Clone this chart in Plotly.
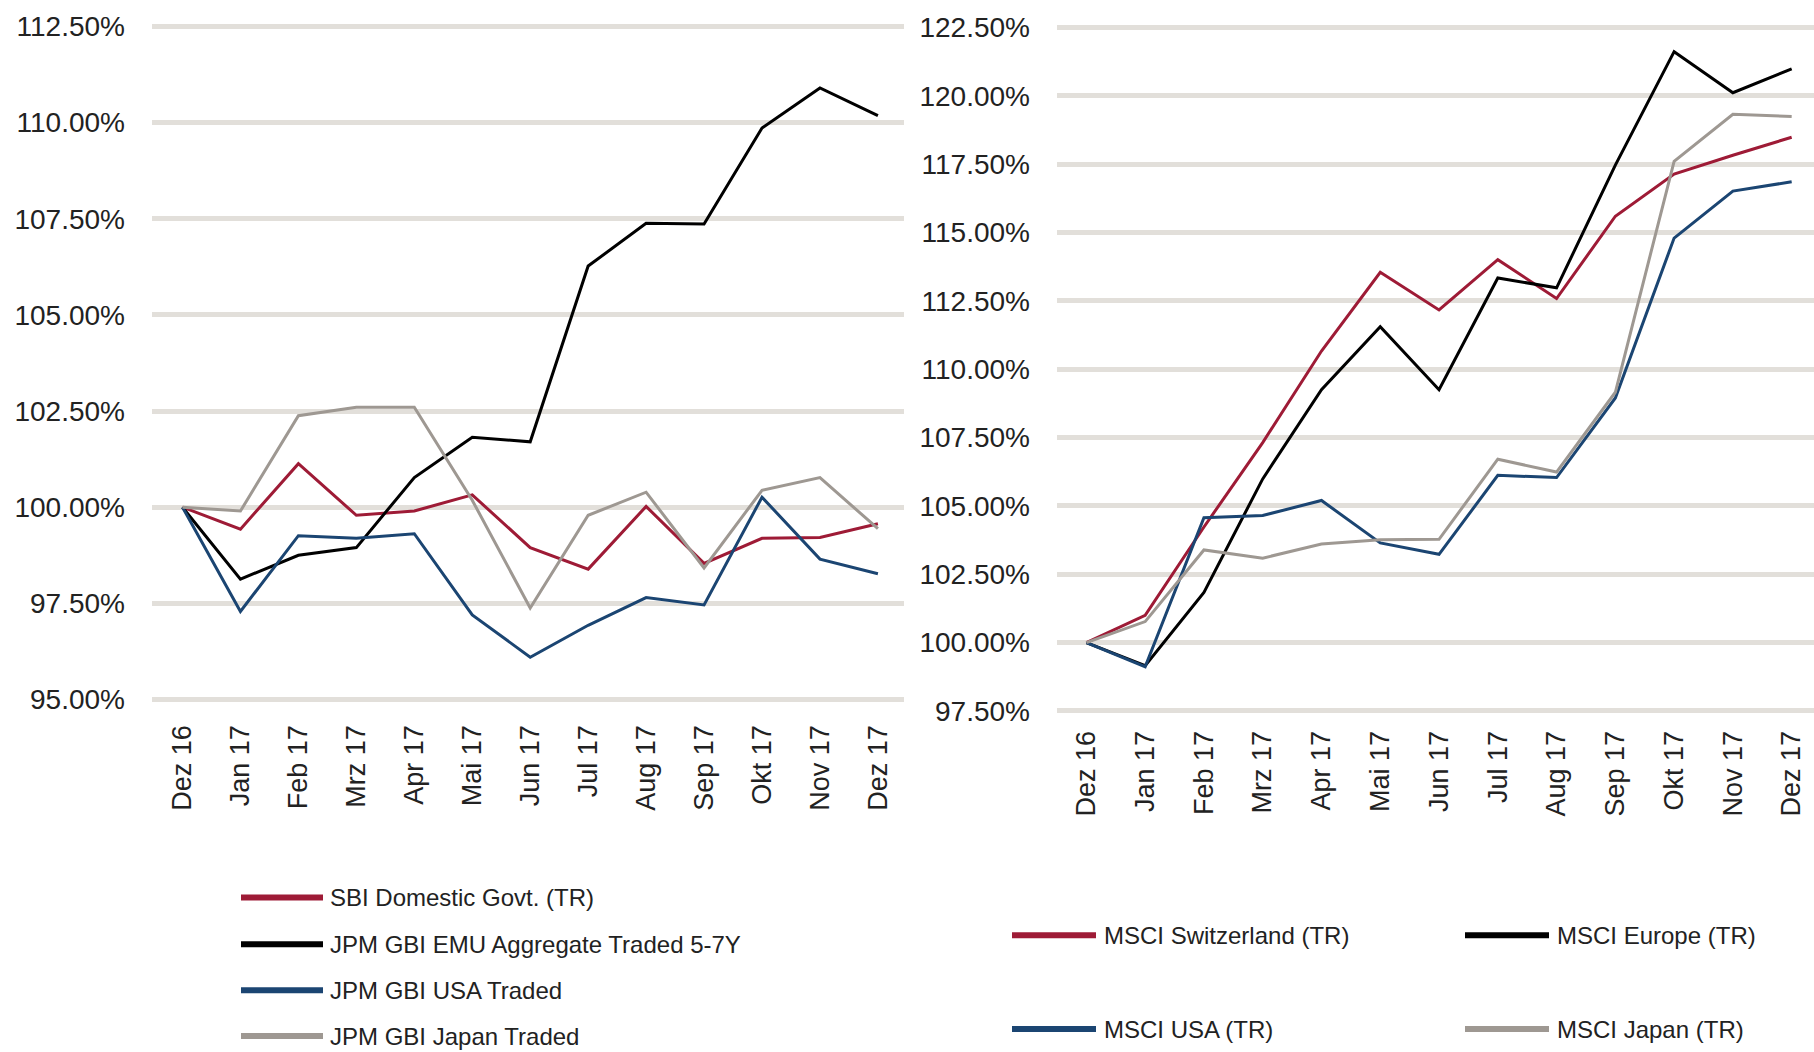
import plotly.graph_objects as go

W, H = 1814, 1052

months = ["Dez 16", "Jan 17", "Feb 17", "Mrz 17", "Apr 17", "Mai 17", "Jun 17",
          "Jul 17", "Aug 17", "Sep 17", "Okt 17", "Nov 17", "Dez 17"]

# Left chart: bonds
sbi_domestic = [100.0, 99.43, 101.13, 99.79, 99.90, 100.32, 98.95, 98.39, 100.02, 98.54, 99.19, 99.21, 99.57]
jpm_emu = [100.0, 98.13, 98.75, 98.95, 100.77, 101.82, 101.70, 106.27, 107.38, 107.36, 109.86, 110.90, 110.18]
jpm_usa = [100.0, 97.29, 99.26, 99.19, 99.31, 97.20, 96.10, 96.93, 97.65, 97.46, 100.26, 98.65, 98.27]
jpm_japan = [100.0, 99.90, 102.38, 102.60, 102.60, 100.18, 97.38, 99.79, 100.39, 98.42, 100.44, 100.77, 99.44]

# Right chart: equities
msci_switzerland = [100.0, 101.00, 104.23, 107.32, 110.67, 113.55, 112.17, 114.01, 112.59, 115.60, 117.14, 117.83, 118.49]
msci_europe = [100.0, 99.16, 101.84, 105.99, 109.25, 111.56, 109.25, 113.34, 112.98, 117.47, 121.62, 120.12, 120.99]
msci_usa = [100.0, 99.12, 104.57, 104.65, 105.20, 103.65, 103.23, 106.12, 106.04, 108.95, 114.80, 116.52, 116.86]
msci_japan = [100.0, 100.77, 103.39, 103.09, 103.61, 103.76, 103.78, 106.71, 106.24, 109.16, 117.61, 119.33, 119.25]

left_names = ["SBI Domestic Govt. (TR)", "JPM GBI EMU Aggregate Traded 5-7Y",
              "JPM GBI USA Traded", "JPM GBI Japan Traded"]
right_names = ["MSCI Switzerland (TR)", "MSCI Europe (TR)", "MSCI USA (TR)", "MSCI Japan (TR)"]

left_ticks = [95, 97.5, 100, 102.5, 105, 107.5, 110, 112.5]
right_ticks = [97.5, 100, 102.5, 105, 107.5, 110, 112.5, 115, 117.5, 120, 122.5]

RED = "#9E1B36"
BLACK = "#000000"
BLUE = "#1B4572"
GRAY = "#9E9892"
GRID = "#E2DFDA"
TXT = "#222222"
colors = [RED, BLACK, BLUE, GRAY]

FONT = "Liberation Sans, Arial, Helvetica, sans-serif"

fig = go.Figure()

left_series = [sbi_domestic, jpm_emu, jpm_usa, jpm_japan]
right_series = [msci_switzerland, msci_europe, msci_usa, msci_japan]

for name, ys, c in zip(left_names, left_series, colors):
    fig.add_trace(go.Scatter(x=months, y=ys, name=name, mode="lines",
                             line=dict(color=c, width=3), xaxis="x", yaxis="y",
                             showlegend=False))
for name, ys, c in zip(right_names, right_series, colors):
    fig.add_trace(go.Scatter(x=months, y=ys, name=name, mode="lines",
                             line=dict(color=c, width=3), xaxis="x2", yaxis="y2",
                             showlegend=False))

def px_x(x):
    return x / W

def px_y(y):
    return 1 - y / H

# domains
lx0, lx1 = px_x(152), px_x(904)
rx0, rx1 = px_x(1057), 1.0
ly0, ly1 = px_y(719.8), px_y(6.2)
ry0, ry1 = px_y(725.7), px_y(13.0)

xaxis_common = dict(type="category", tickangle=-90, showgrid=False, zeroline=False,
                    showline=False, ticks="", tickfont=dict(family=FONT, size=27, color=TXT))
yaxis_common = dict(showgrid=True, gridcolor=GRID, gridwidth=5, zeroline=False,
                    showline=False, ticks="", ticklabelstandoff=26,
                    tickfont=dict(family=FONT, size=28, color=TXT))

fig.update_layout(
    width=W, height=H,
    margin=dict(l=0, r=0, t=0, b=0),
    paper_bgcolor="white", plot_bgcolor="white",
    xaxis=dict(domain=[lx0, lx1], range=[-0.526, 12.45], anchor="y", **xaxis_common),
    yaxis=dict(domain=[ly0, ly1], range=[94.5, 113.0], anchor="x",
               tickvals=left_ticks, ticktext=[f"{v:.2f}%" for v in left_ticks], **yaxis_common),
    xaxis2=dict(domain=[rx0, rx1], range=[-0.50, 12.38], anchor="y2", **xaxis_common),
    yaxis2=dict(domain=[ry0, ry1], range=[97.0, 123.0], anchor="x2",
                tickvals=right_ticks, ticktext=[f"{v:.2f}%" for v in right_ticks], **yaxis_common),
    showlegend=False,
)

# 100% baselines
fig.add_shape(type="line", xref="x domain", yref="y", x0=0, x1=1, y0=100, y1=100,
              line=dict(color="black", width=4.5), layer="below")
fig.add_shape(type="line", xref="x2 domain", yref="y2", x0=0, x1=1, y0=100, y1=100,
              line=dict(color="black", width=4.5), layer="below")

# custom legends
def legend_item(x0, x1, xt, y, color, text):
    fig.add_shape(type="line", xref="paper", yref="paper", x0=px_x(x0), x1=px_x(x1),
                  y0=px_y(y), y1=px_y(y), line=dict(color=color, width=6))
    fig.add_annotation(xref="paper", yref="paper", x=px_x(xt), y=px_y(y), text=text,
                       showarrow=False, xanchor="left", yanchor="middle",
                       font=dict(family=FONT, size=24, color=TXT))

left_rows = [899, 946, 992, 1038]
for nm, c, yy in zip(left_names, colors, left_rows):
    legend_item(241, 323, 328, yy, c, nm)

right_pos = [(1012, 1096, 1102, 937), (1465, 1549, 1555, 937),
             (1012, 1096, 1102, 1031), (1465, 1549, 1555, 1031)]
for nm, c, (a, b, t, yy) in zip(right_names, colors, right_pos):
    legend_item(a, b, t, yy, c, nm)

fig.write_html("out.html", config={"displayModeBar": False},
               post_script="document.body.style.margin='0';document.body.style.overflow='hidden';")
